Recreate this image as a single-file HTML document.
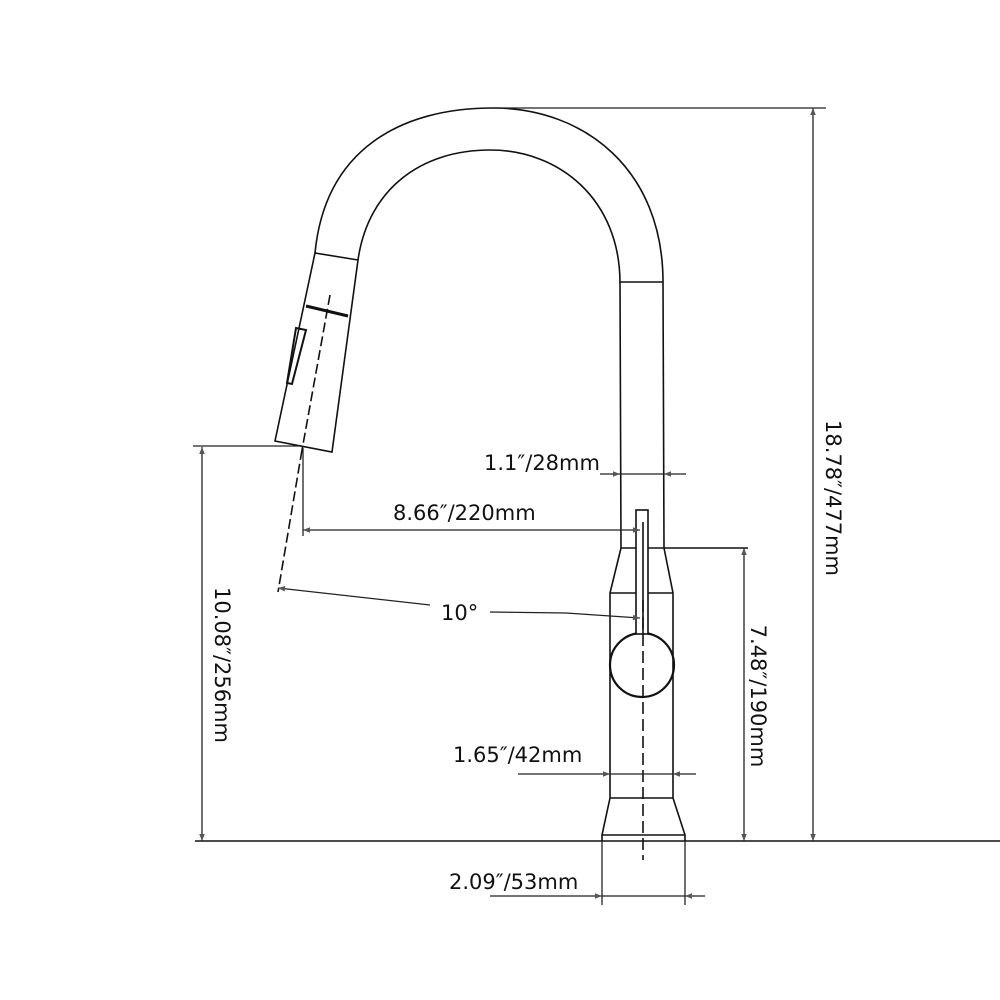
<!DOCTYPE html>
<html><head><meta charset="utf-8"><style>
html,body{margin:0;padding:0;background:#fff;}
svg{display:block;}
text{font-family:"DejaVu Sans","Liberation Sans",sans-serif;font-size:21px;fill:#111;}
</style></head><body>
<svg width="1000" height="1000" viewBox="0 0 1000 1000" xmlns="http://www.w3.org/2000/svg">
<defs>
<marker id="a" viewBox="0 0 10 10" refX="10" refY="5" markerWidth="8" markerHeight="7" orient="auto-start-reverse" markerUnits="userSpaceOnUse">
<path d="M0,1 L10,5 L0,9 z" fill="#555"/></marker>
</defs>
<g fill="none" stroke="#111" stroke-width="1.6">
<path d="M315,253 C325,150 400,108 493,108 C585,108 663,170 663,282"/>
<path d="M358,260 C368,190 420,150 490,150 C560,150 620,200 620,283"/>
<line x1="620" y1="282" x2="663" y2="282"/>
<line x1="620" y1="282" x2="621" y2="548"/>
<line x1="663" y1="282" x2="664" y2="548"/>
<line x1="621" y1="548" x2="748" y2="548"/>
<path d="M621,548 L610,593 L610,798 M664,548 L673,593 L673,798"/>
<line x1="610" y1="593" x2="673" y2="593"/>
<line x1="610" y1="798" x2="673" y2="798"/>
<path d="M610,798 L602,835 L602,841 M673,798 L685,835 L685,841"/>
<line x1="602" y1="835" x2="685" y2="835"/>
<line x1="195" y1="841" x2="1000" y2="841"/>
<circle cx="642" cy="665" r="32" stroke-width="2.2"/>
<rect x="636" y="510" width="12" height="124" fill="#fff"/>
<line x1="643" y1="522" x2="643" y2="634"/>
<line x1="643" y1="600" x2="643" y2="860" stroke-dasharray="12,5"/>
<path d="M315,253 L358,260 L332,452 L275,441 Z"/>
<line x1="306" y1="306" x2="348" y2="316" stroke-width="3"/>
<path d="M296,328 L306,330 L292,384 L287,383 Z" stroke-width="2"/>
<line x1="330" y1="295" x2="302" y2="450" stroke-dasharray="10,4"/>
<line x1="302" y1="450" x2="278" y2="592" stroke-dasharray="10,4"/>
</g>
<g fill="none" stroke="#222" stroke-width="1.3">
<line x1="490" y1="108" x2="826" y2="108"/>
<line x1="813" y1="108" x2="813" y2="841" marker-start="url(#a)" marker-end="url(#a)"/>
<line x1="744" y1="548" x2="744" y2="841" marker-start="url(#a)" marker-end="url(#a)"/>
<line x1="193" y1="446" x2="300" y2="446"/>
<line x1="202" y1="447" x2="202" y2="841" marker-start="url(#a)" marker-end="url(#a)"/>
<line x1="600" y1="474" x2="620" y2="474" marker-end="url(#a)"/>
<line x1="686" y1="474" x2="664" y2="474" marker-end="url(#a)"/>
<line x1="620" y1="474" x2="664" y2="474"/>
<line x1="303" y1="448" x2="303" y2="536"/>
<line x1="303" y1="530" x2="640" y2="530" marker-start="url(#a)" marker-end="url(#a)"/>
<line x1="430" y1="605" x2="278" y2="588" marker-end="url(#a)"/>
<path d="M490,612 L566,613 L640,618" marker-end="url(#a)"/>
<line x1="518" y1="774" x2="610" y2="774" marker-end="url(#a)"/>
<line x1="696" y1="774" x2="673" y2="774" marker-end="url(#a)"/>
<line x1="610" y1="774" x2="673" y2="774"/>
<line x1="602" y1="841" x2="602" y2="905"/>
<line x1="685" y1="841" x2="685" y2="905"/>
<line x1="490" y1="896" x2="602" y2="896" marker-end="url(#a)"/>
<line x1="705" y1="896" x2="685" y2="896" marker-end="url(#a)"/>
<line x1="602" y1="896" x2="685" y2="896"/>
</g>
<text x="484" y="470">1.1″/28mm</text>
<text x="393" y="520">8.66″/220mm</text>
<text x="441" y="620">10°</text>
<text x="453" y="762">1.65″/42mm</text>
<text x="449" y="889">2.09″/53mm</text>
<text transform="translate(826,498) rotate(90)" text-anchor="middle">18.78″/477mm</text>
<text transform="translate(751,696) rotate(90)" text-anchor="middle">7.48″/190mm</text>
<text transform="translate(215,665) rotate(90)" text-anchor="middle">10.08″/256mm</text>
</svg>
</body></html>
